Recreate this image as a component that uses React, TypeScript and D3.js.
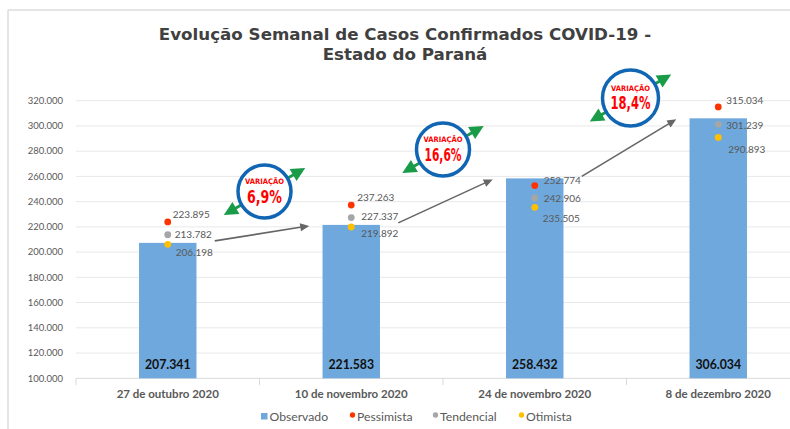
import React from "react";
import * as d3 from "d3";

const categories = ["27 de outubro 2020", "10 de novembro 2020", "24 de novembro 2020", "8 de dezembro 2020"];
const observado = [207341, 221583, 258432, 306034];
const pessimista = [223895, 237263, 252774, 315034];
const tendencial = [213782, 227337, 242906, 301239];
const otimista = [206198, 219892, 235505, 290893];
const yTicks = [100000, 120000, 140000, 160000, 180000, 200000, 220000, 240000, 260000, 280000, 300000, 320000];
const variacaoLabels = ["6,9%", "16,6%", "18,4%"];
const variacaoY = [248000, 281300, 322100];
const legendItems = ["Observado", "Pessimista", "Tendencial", "Otimista"];

// label offsets (style)
const pesOff = [[5, -7], [6, -8], [9, -5], [8, -6]];
const tenOff = [[7, 0], [10, -1.5], [9, 1], [8, 1]];
const otiOff = [[8, 8], [10, 6], [8, 11], [10, 12]];
const varDx = [5, 0, 4];
const varPctW = [35, 37, 40];

const W = 790, H = 429;
const fmt = (v: number) => d3.format(",")(v).replace(/,/g, ".");

const BAR = "#6fa8dc";
const RED = "#ff3300";
const GRAY = "#a6a6a6";
const YEL = "#ffc000";
const TXT = "#595959";
const GREEN = "#1a9b47";
const BLUE = "#1166b3";
const FONT = "Lato, 'Open Sans', sans-serif";
const COND = "'DejaVu Sans', sans-serif";

function arrowHead(x: number, y: number, ang: number, len: number, wid: number) {
  const bx = x - Math.cos(ang) * len, by = y - Math.sin(ang) * len;
  const px = -Math.sin(ang) * wid / 2, py = Math.cos(ang) * wid / 2;
  return `M${x},${y}L${bx + px},${by + py}L${bx - px},${by - py}Z`;
}

export default function App() {
  const x = d3.scaleBand<string>().domain(categories).range([76, 810]).padding(0);
  const y = d3.scaleLinear().domain([100000, 320000]).range([378.3, 100.7]);
  const bw = x.bandwidth() * 0.313;
  const cx = (i: number) => (x(categories[i]) as number) + x.bandwidth() / 2;

  const series = [
    { vals: pessimista, color: RED, off: pesOff },
    { vals: tendencial, color: GRAY, off: tenOff },
    { vals: otimista, color: YEL, off: otiOff },
  ];

  const grayArrows = observado.slice(0, -1).map((v, i) => {
    const x1 = cx(i) + 47, y1 = y(v) - 2;
    const x2 = cx(i + 1) - 42, y2 = y(observado[i + 1]) + 1;
    const ang = Math.atan2(y2 - y1, x2 - x1);
    return { x1, y1, x2, y2, ang };
  });

  const legendX = [261, 350, 433, 519];
  const legendColors = [BAR, RED, GRAY, YEL];

  return (
    <svg width={W} height={H} style={{ position: "absolute", left: 0, top: 0, background: "#fff" }}>
      {/* frame */}
      <line x1={8} x2={W} y1={10} y2={10} stroke="#dcdcdc" strokeWidth={1.5} />
      <line x1={8} x2={8} y1={10} y2={H} stroke="#dcdcdc" strokeWidth={1.5} />

      {/* title */}
      <text x={405} y={40} textAnchor="middle" fontFamily="'DejaVu Sans', Verdana, sans-serif" fontWeight="bold" fontSize={16.7} fill="#404040">
        Evolução Semanal de Casos Confirmados COVID-19 -
      </text>
      <text x={405} y={60} textAnchor="middle" fontFamily="'DejaVu Sans', Verdana, sans-serif" fontWeight="bold" fontSize={16.7} fill="#404040">
        Estado do Paraná
      </text>

      {/* gridlines and y labels */}
      {yTicks.map((t) => (
        <g key={t}>
          <line x1={76} x2={W} y1={y(t)} y2={y(t)} stroke={t === 100000 ? "#d9d9d9" : "#e8e8e8"} strokeWidth={1} />
          <text x={63} y={y(t) + 3.3} textAnchor="end" fontFamily={FONT} fontSize={9.5} fill={TXT}>{fmt(t)}</text>
        </g>
      ))}
      {/* category ticks */}
      {categories.map((c) => x(c) as number).map((tx, i) => (
        <line key={i} x1={tx} x2={tx} y1={378.3} y2={385} stroke="#d9d9d9" />
      ))}

      {/* bars */}
      {observado.map((v, i) => (
        <g key={i}>
          <rect x={cx(i) - bw / 2} y={y(v)} width={bw} height={y(100000) - y(v)} fill={BAR} />
          <text x={cx(i)} y={369} textAnchor="middle" fontFamily={FONT} fontWeight="bold" fontSize={12.3} fill="#111">{fmt(v)}</text>
        </g>
      ))}

      {/* category labels */}
      {categories.map((c, i) => (
        <text key={c} x={cx(i)} y={397.5} textAnchor="middle" fontFamily={FONT} fontWeight="bold" fontSize={11.5} fill={TXT}>{c}</text>
      ))}

      {/* scatter series */}
      {series.map((s, si) => (
        <g key={si}>
          {s.vals.map((v, i) => (
            <g key={i}>
              <circle cx={cx(i)} cy={y(v)} r={3.4} fill={s.color} />
              <text x={cx(i) + s.off[i][0]} y={y(v) + s.off[i][1] + 3.5} fontFamily={FONT} fontSize={10} fill={TXT}>{fmt(v)}</text>
            </g>
          ))}
        </g>
      ))}

      {/* gray arrows */}
      {grayArrows.map((a, i) => (
        <g key={i}>
          <line x1={a.x1} y1={a.y1} x2={a.x2 - Math.cos(a.ang) * 6} y2={a.y2 - Math.sin(a.ang) * 6} stroke="#666" strokeWidth={1.6} />
          <path d={arrowHead(a.x2, a.y2, a.ang, 9, 8)} fill="#666" />
        </g>
      ))}

      {/* variation circles */}
      {variacaoLabels.map((lab, i) => {
        const ccx = (cx(i) + cx(i + 1)) / 2 + varDx[i];
        const ccy = y(variacaoY[i]);
        const ang = -Math.PI / 6;
        const L = 47;
        const tx1 = ccx + Math.cos(ang) * L, ty1 = ccy + Math.sin(ang) * L;
        const tx2 = ccx - Math.cos(ang) * L, ty2 = ccy - Math.sin(ang) * L;
        const r = i === 2 ? 28 : 26.5;
        return (
          <g key={i}>
            <line x1={tx1 - Math.cos(ang) * 10} y1={ty1 - Math.sin(ang) * 10} x2={tx2 + Math.cos(ang) * 10} y2={ty2 + Math.sin(ang) * 10} stroke={GREEN} strokeWidth={3} />
            <path d={arrowHead(tx1, ty1, ang, 14, 14)} fill={GREEN} />
            <path d={arrowHead(tx2, ty2, ang + Math.PI, 14, 14)} fill={GREEN} />
            <circle cx={ccx} cy={ccy} r={r} fill="#fff" stroke={BLUE} strokeWidth={3.5} />
            <text x={ccx} y={ccy - 7.5} textAnchor="middle" fontFamily={COND} fontWeight="bold" fontSize={7.5} fill="#ff0000" textLength={39} lengthAdjust="spacingAndGlyphs">VARIAÇÃO</text>
            <text x={ccx} y={ccy + 11} textAnchor="middle" fontFamily={COND} fontWeight="bold" fontSize={17} fill="#ff0000" textLength={varPctW[i]} lengthAdjust="spacingAndGlyphs">{lab}</text>
          </g>
        );
      })}

      {/* legend */}
      {legendItems.map((l, i) => (
        <g key={l}>
          {i === 0 ? (
            <rect x={legendX[i]} y={413} width={6.5} height={6.5} fill={legendColors[i]} />
          ) : (
            <circle cx={legendX[i] + 2.5} cy={415} r={2.7} fill={legendColors[i]} />
          )}
          <text x={legendX[i] + (i === 0 ? 8.5 : 7)} y={421} fontFamily={FONT} fontSize={12.2} fill={TXT}>{l}</text>
        </g>
      ))}
    </svg>
  );
}
